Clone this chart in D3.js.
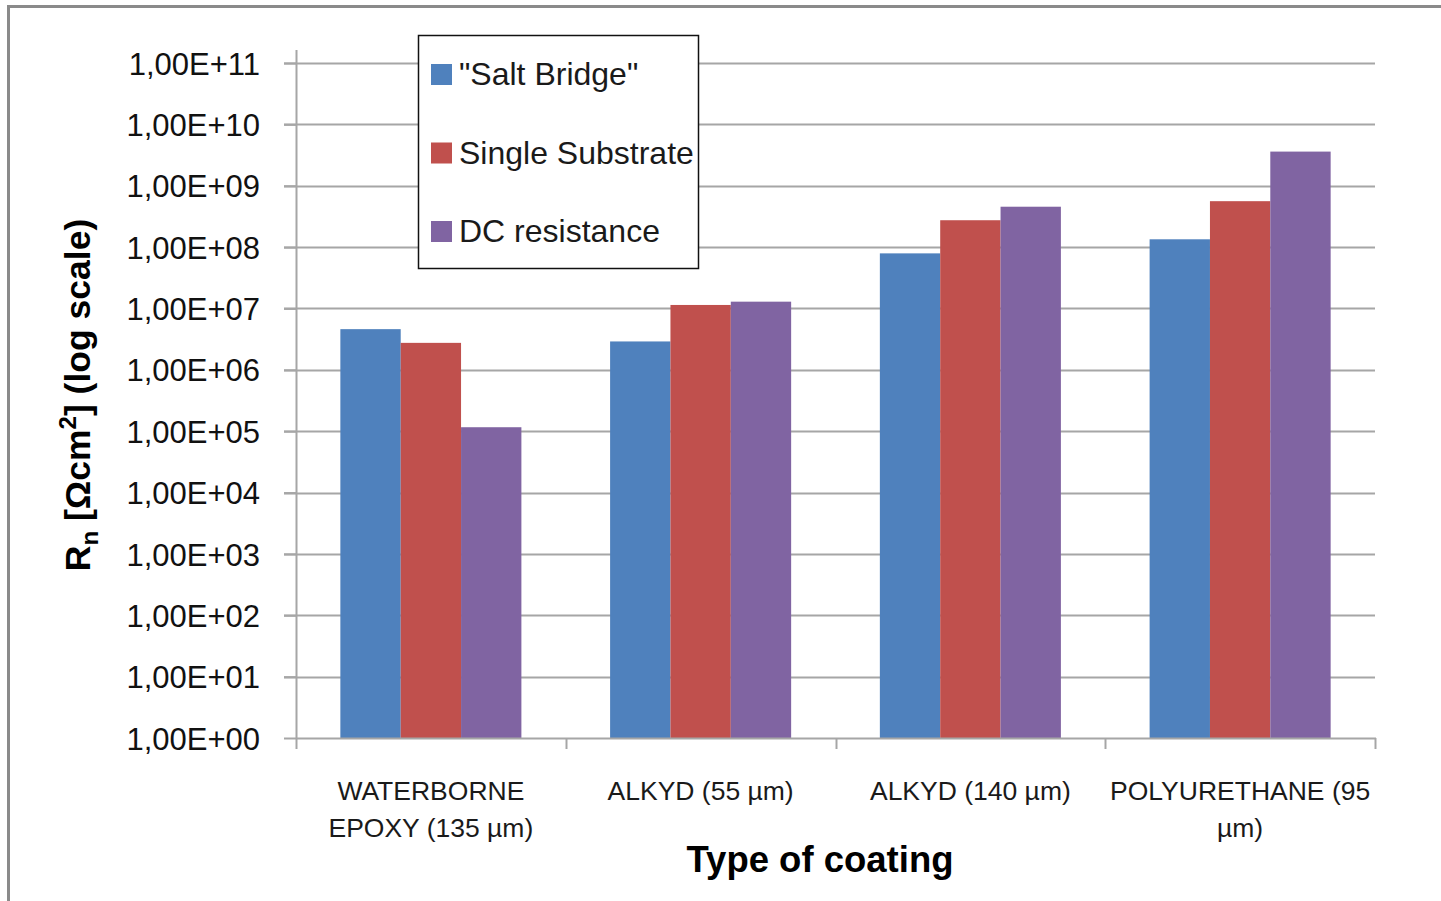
<!DOCTYPE html>
<html>
<head>
<meta charset="utf-8">
<script src="https://cdn.jsdelivr.net/npm/d3@7"></script>
<style>
  html, body { margin: 0; padding: 0; background: #fff; }
  svg { display: block; font-family: "Liberation Sans", Arial, sans-serif; }
</style>
</head>
<body>
<svg id="chart" width="1441" height="901"></svg>
<script>
// Coating types (x categories)
const categories = [
  "WATERBORNE EPOXY (135 µm)",
  "ALKYD (55 µm)",
  "ALKYD (140 µm)",
  "POLYURETHANE (95 µm)"
];
// Series names and colours
const seriesNames = ["\"Salt Bridge\"", "Single Substrate", "DC resistance"];
const seriesColors = ["#4F81BD", "#C0504D", "#8064A2"];
// Noise resistance values, Ωcm², per series (one value per coating)
const saltBridge      = [4.6e6, 2.9e6, 7.9e7, 1.34e8];
const singleSubstrate = [2.75e6, 1.14e7, 2.74e8, 5.6e8];
const dcResistance    = [1.16e5, 1.29e7, 4.55e8, 3.6e9];
// Y tick values and their labels
const yTickValues = [1e0, 1e1, 1e2, 1e3, 1e4, 1e5, 1e6, 1e7, 1e8, 1e9, 1e10, 1e11];
const yTickLabels = ["1,00E+00", "1,00E+01", "1,00E+02", "1,00E+03", "1,00E+04", "1,00E+05",
                     "1,00E+06", "1,00E+07", "1,00E+08", "1,00E+09", "1,00E+10", "1,00E+11"];

const seriesValues = [saltBridge, singleSubstrate, dcResistance];

const svg = d3.select("#chart");

// outer frame
svg.append("rect")
  .attr("x", 8.5).attr("y", 6.5).attr("width", 1445).attr("height", 905)
  .attr("fill", "none").attr("stroke", "#8a8a8a").attr("stroke-width", 3);

const plot = { left: 296, right: 1375, top: 63, bottom: 738 };

const y = d3.scaleLog().domain([1e0, 1e11]).range([plot.bottom, plot.top]);
const x0 = d3.scaleBand().domain(categories).range([plot.left, plot.right]).padding(0);
const gapRatio = 1.47;
const sideGap = x0.bandwidth() * gapRatio / (seriesNames.length + gapRatio) / 2;
const x1 = d3.scaleBand().domain(d3.range(seriesNames.length))
  .range([sideGap, x0.bandwidth() - sideGap])
  .padding(0);

const gridColor = "#a6a6a6";

// horizontal gridlines
svg.append("g").selectAll("line").data(yTickValues.slice(1)).join("line")
  .attr("x1", plot.left - 12).attr("x2", plot.right)
  .attr("y1", d => Math.round(y(d)) + 0.5).attr("y2", d => Math.round(y(d)) + 0.5)
  .attr("stroke", gridColor).attr("stroke-width", 2);

// bars
const groups = svg.append("g").selectAll("g").data(categories).join("g")
  .attr("transform", c => `translate(${x0(c)},0)`);
groups.selectAll("rect")
  .data((c, i) => seriesValues.map((vals, s) => ({ s, v: vals[i] })))
  .join("rect")
  .attr("x", d => x1(d.s))
  .attr("width", x1.bandwidth())
  .attr("y", d => y(d.v))
  .attr("height", d => y(1e0) - y(d.v))
  .attr("fill", d => seriesColors[d.s]);

// y axis
const yAxis = d3.axisLeft(y)
  .tickValues(yTickValues)
  .tickFormat((d, i) => yTickLabels[i])
  .tickSize(12)
  .tickPadding(24);
const gy = svg.append("g").attr("transform", `translate(${plot.left},0)`).call(yAxis);
gy.select(".domain").remove();
gy.selectAll(".tick line").attr("stroke", gridColor).attr("stroke-width", 2);
gy.selectAll(".tick text")
  .attr("fill", "#111").attr("font-size", 31).attr("dy", "0.36em")
  .style("font-family", "'Liberation Sans', Arial, sans-serif");
svg.append("line")
  .attr("x1", plot.left + 0.5).attr("x2", plot.left + 0.5)
  .attr("y1", 50).attr("y2", plot.bottom)
  .attr("stroke", gridColor).attr("stroke-width", 2);

// x axis
const xAxis = d3.axisBottom(x0).tickSize(0).tickPadding(0).tickFormat("");
const gx = svg.append("g").attr("transform", `translate(0,${plot.bottom})`).call(xAxis);
gx.select(".domain").remove();
svg.append("line")
  .attr("x1", plot.left).attr("x2", plot.right + 1)
  .attr("y1", plot.bottom + 0.5).attr("y2", plot.bottom + 0.5)
  .attr("stroke", gridColor).attr("stroke-width", 2);
// category boundary ticks
const boundaries = categories.map(c => x0(c)).concat([plot.right]);
svg.append("g").selectAll("line").data(boundaries).join("line")
  .attr("x1", d => Math.round(d) + 0.5).attr("x2", d => Math.round(d) + 0.5)
  .attr("y1", plot.bottom).attr("y2", plot.bottom + 11)
  .attr("stroke", gridColor).attr("stroke-width", 2);

// category labels, wrapped to the band width
const catLabels = svg.append("g");
categories.forEach(c => {
  const cx = x0(c) + x0.bandwidth() / 2;
  const t = catLabels.append("text")
    .attr("x", cx).attr("y", 800)
    .attr("text-anchor", "middle").attr("font-size", 26.5).attr("fill", "#1a1a1a");
  const words = c.split(" ");
  let line = [];
  let tspan = t.append("tspan").attr("x", cx).attr("dy", 0);
  words.forEach(w => {
    line.push(w);
    tspan.text(line.join(" "));
    if (tspan.node().getComputedTextLength() > x0.bandwidth() - 4 && line.length > 1) {
      line.pop();
      tspan.text(line.join(" "));
      line = [w];
      tspan = t.append("tspan").attr("x", cx).attr("dy", 37).text(w);
    }
  });
});

// x axis title
svg.append("text")
  .attr("x", 820).attr("y", 872).attr("text-anchor", "middle")
  .attr("font-size", 36.5).attr("font-weight", "bold").attr("fill", "#000")
  .text("Type of coating");

// y axis title
const yTitle = svg.append("text")
  .attr("transform", "translate(90,395) rotate(-90)")
  .attr("text-anchor", "middle")
  .attr("font-size", 35.5).attr("font-weight", "bold").attr("fill", "#000");
yTitle.append("tspan").text("R");
yTitle.append("tspan").attr("font-size", 24).attr("dy", 8).text("n");
yTitle.append("tspan").attr("dy", -8).text(" [Ωcm");
yTitle.append("tspan").attr("font-size", 24).attr("dy", -14).text("2");
yTitle.append("tspan").attr("dy", 14).text("] (log scale)");

// legend
const legend = svg.append("g");
legend.append("rect")
  .attr("x", 418.5).attr("y", 35.5).attr("width", 280).attr("height", 233)
  .attr("fill", "#fff").attr("stroke", "#111").attr("stroke-width", 1.5);
const legendY = d3.scalePoint().domain(seriesNames).range([74, 231]);
const items = legend.selectAll("g.item").data(seriesNames).join("g").attr("class", "item")
  .attr("transform", d => `translate(0,${legendY(d)})`);
items.append("rect")
  .attr("x", 431).attr("y", -10).attr("width", 21).attr("height", 21)
  .attr("fill", (d, i) => seriesColors[i]);
items.append("text")
  .attr("x", 459).attr("y", 0).attr("dy", "0.35em")
  .attr("font-size", 32).attr("fill", "#1a1a1a")
  .text(d => d);
</script>
</body>
</html>
